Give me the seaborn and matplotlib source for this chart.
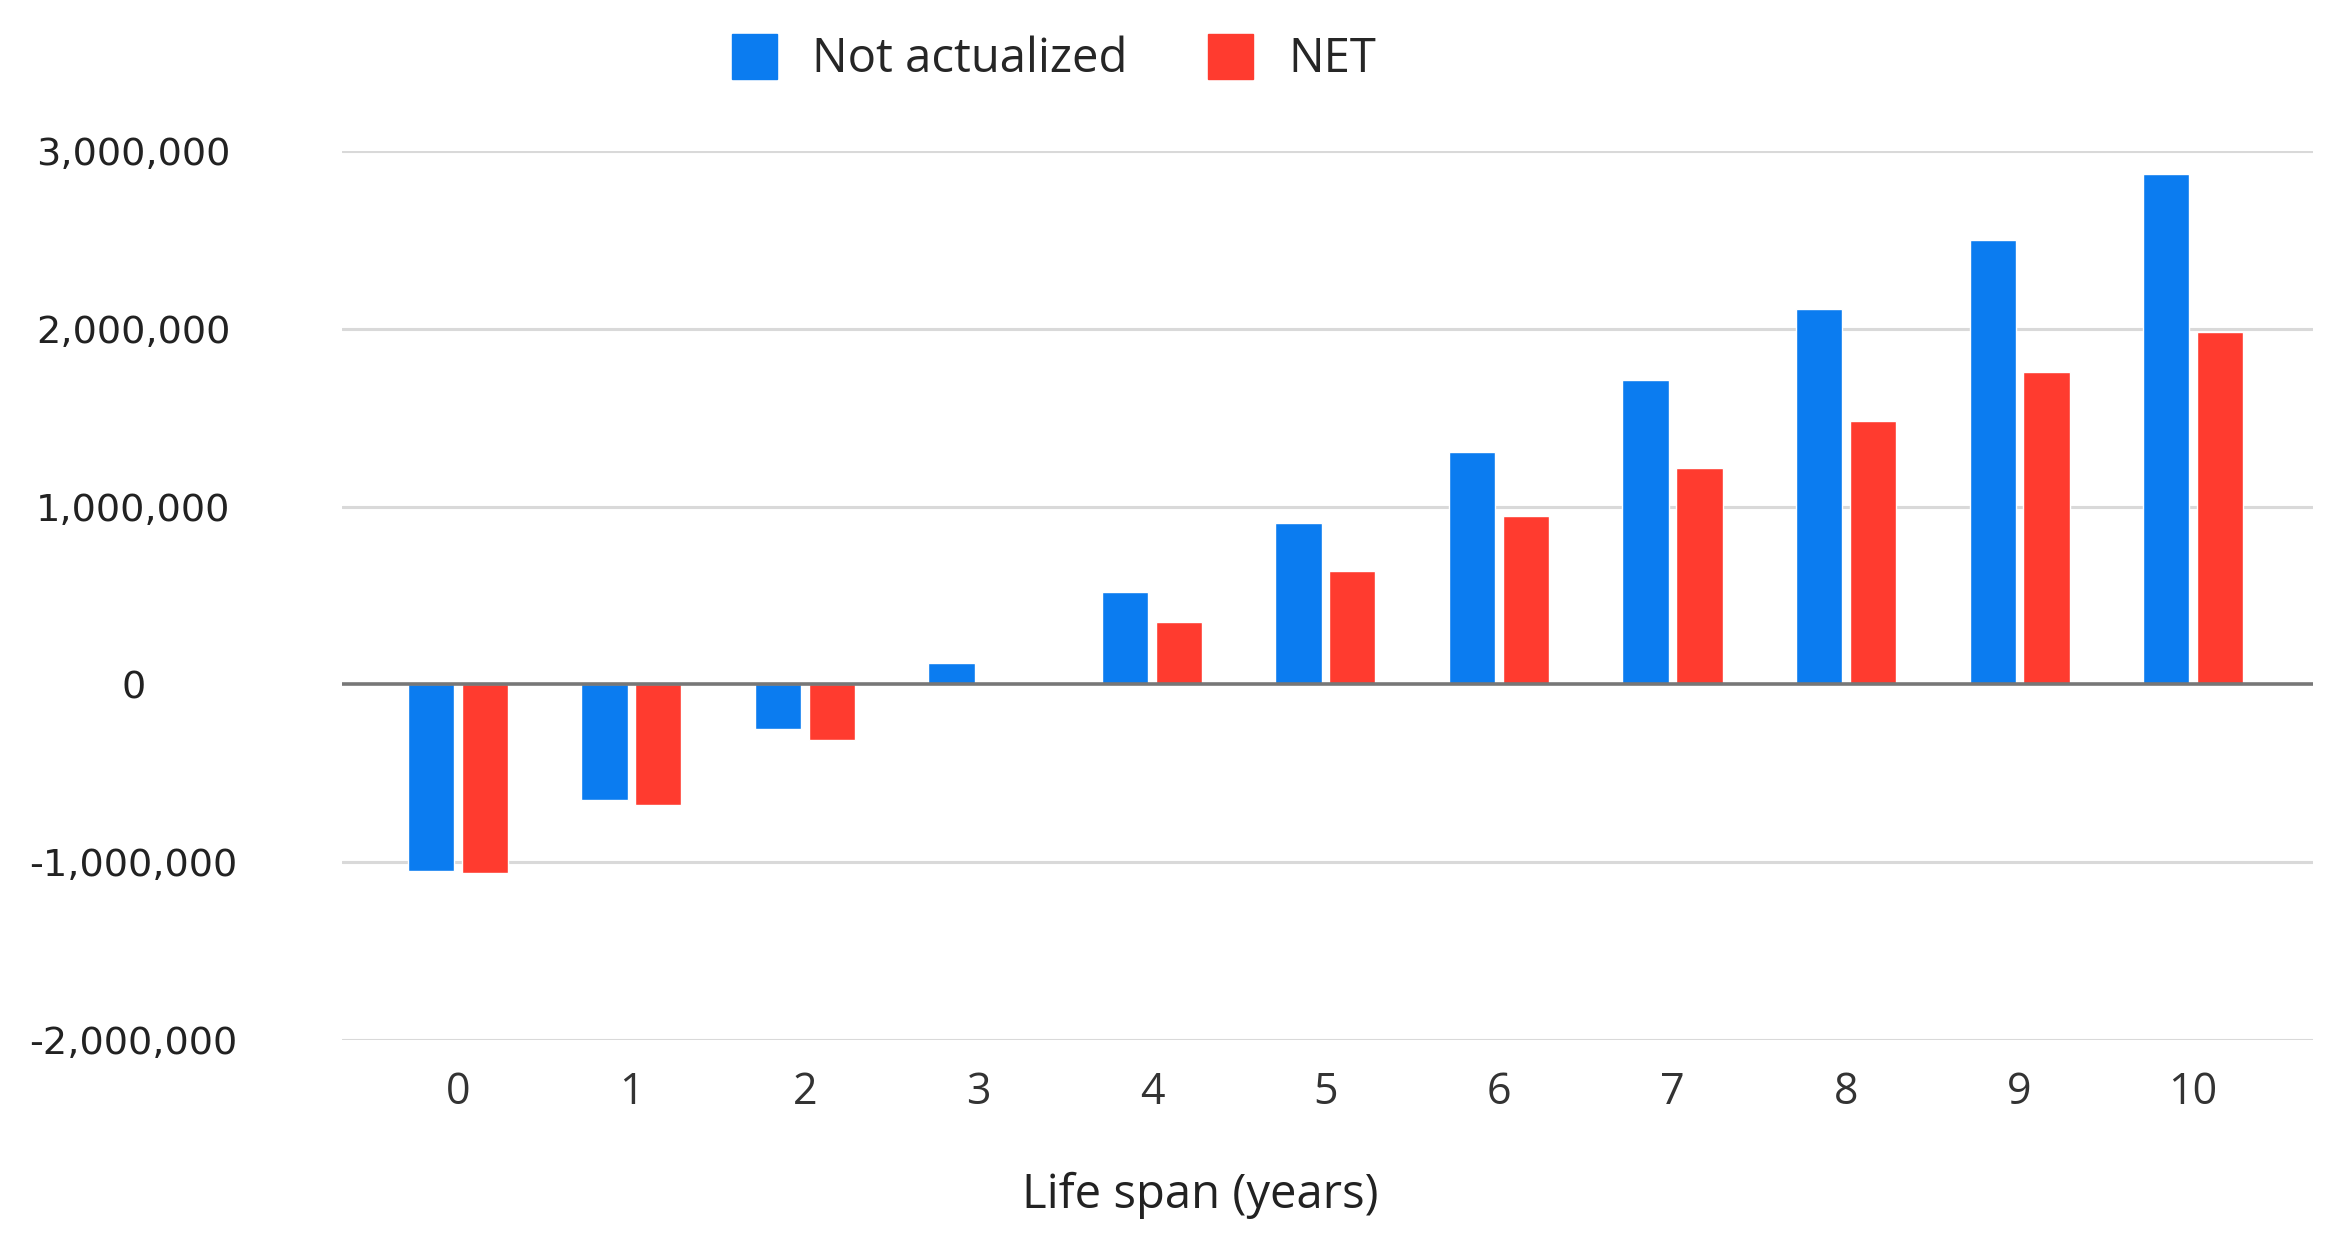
import matplotlib
matplotlib.use("Agg")
import matplotlib.pyplot as plt
import matplotlib.patches as mpatches
import seaborn as sns
import pandas as pd

years = ["0", "1", "2", "3", "4", "5", "6", "7", "8", "9", "10"]
not_actualized = [-1050000, -650000, -250000, 120000, 520000, 910000,
                  1310000, 1710000, 2110000, 2500000, 2870000]
net = [-1060000, -680000, -310000, 0, 350000, 640000,
       950000, 1220000, 1480000, 1760000, 1980000]
series_names = ["Not actualized", "NET"]
colors = ["#0b7cf0", "#ff3b2f"]
y_ticks = [-2000000, -1000000, 0, 1000000, 2000000, 3000000]

df = pd.DataFrame({
    "year": years * 2,
    "value": not_actualized + net,
    "series": [series_names[0]] * len(years) + [series_names[1]] * len(years),
})

sns.set_style("white")
plt.rcParams["font.family"] = ["DejaVu Sans"]

fig = plt.figure(figsize=(23.48, 12.44), dpi=100)
ax = fig.add_axes([0.1455, 0.164, 0.8395, 0.7145])

sns.barplot(data=df, x="year", y="value", hue="series", order=years,
            hue_order=series_names, palette=colors, width=0.62, gap=0.14,
            saturation=1, legend=False, ax=ax)

ax.set_ylim(-2000000, 3000000)
ax.set_xlim(-0.67, 10.69)
ax.set_yticks(y_ticks)
ax.set_yticklabels([f"{v:,}" for v in y_ticks], fontsize=27.5, color="#222222",
                   ha="center")
ax.tick_params(axis="y", length=0, pad=150)
ax.tick_params(axis="x", length=0, pad=22)
for lab in ax.get_xticklabels():
    lab.set_fontfamily("Open Sans")
    lab.set_fontsize(31)
    lab.set_color("#333333")

# grid lines, zero line darker
for t in y_ticks:
    if t == 0:
        continue
    ax.axhline(t, color="#d9d9d9", lw=2.2, zorder=0)
ax.axhline(0, color="#777777", lw=2.6, zorder=3)

sns.despine(ax=ax, left=True, bottom=True)
ax.set_xlabel("")
ax.set_ylabel("")

fig.text(0.511, 0.039, "Life span (years)", ha="center", va="center",
         fontsize=34, family="Open Sans", color="#222222")

handles = [mpatches.Patch(color=c, label=n) for c, n in zip(colors, series_names)]
fig.legend(handles=handles, loc="center", bbox_to_anchor=(0.449, 0.953),
           ncol=2, frameon=False, handlelength=0.95, handleheight=1.1,
           handletextpad=0.75, columnspacing=1.7,
           prop={"family": "Open Sans", "size": 34})

fig.savefig("out.png", dpi=100, facecolor="white")
